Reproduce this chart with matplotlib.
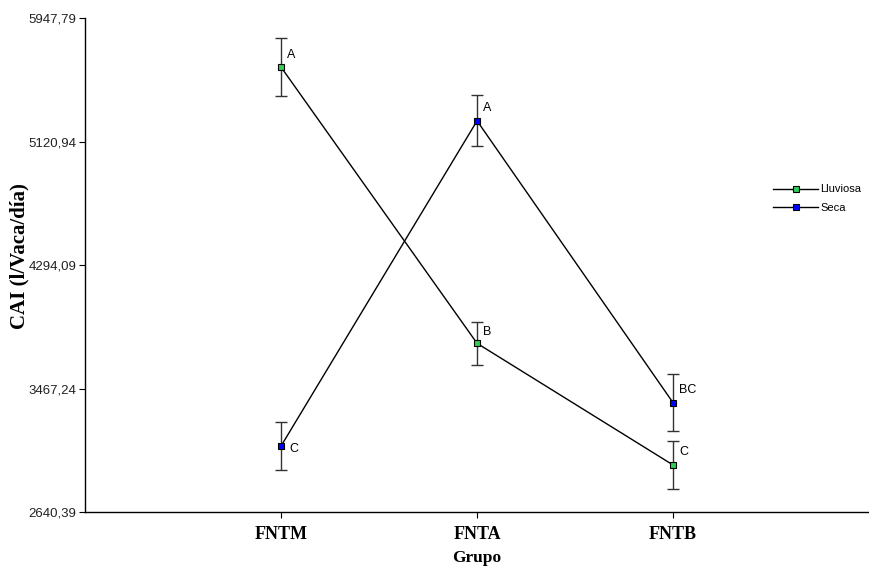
import matplotlib
import matplotlib.pyplot as plt

matplotlib.use("Agg")

GROUPS = ["FNTM", "FNTA", "FNTB"]
LLUVIOSA_MEAN = [5620, 3770, 2955]
LLUVIOSA_ERR = [195, 145, 160]
LLUVIOSA_LETTERS = ["A", "B", "C"]
SECA_MEAN = [3082, 5260, 3372]
SECA_ERR = [160, 171, 190]
SECA_LETTERS = ["C", "A", "BC"]
Y_TICKS = [2640.39, 3467.24, 4294.09, 5120.94, 5947.79]

GREEN = "#33cc55"
BLUE = "#0000ff"
SANS = "Liberation Sans"
SERIF = "Liberation Serif"


def draw_series(ax, xs, means, errs, letters, color, label, offsets):
    ax.errorbar(xs, means, yerr=errs, fmt="none", ecolor="#333333",
                elinewidth=1, capsize=4, capthick=1, zorder=2)
    ax.plot(xs, means, color="black", lw=1, marker="s", markersize=5,
            markerfacecolor=color, markeredgecolor="black", markeredgewidth=0.8,
            label=label, zorder=3)
    for x, y, t, off in zip(xs, means, letters, offsets):
        ax.annotate(t, (x, y), xytext=off, textcoords="offset pixels",
                    ha="left", va="center", fontsize=9, family=SANS)


def main():
    fig = plt.figure(figsize=(8.7, 5.67), dpi=100, facecolor="white")
    ax = fig.add_axes([0.0977, 0.097, 0.9013, 0.871])

    xs = list(range(1, len(GROUPS) + 1))
    draw_series(ax, xs, LLUVIOSA_MEAN, LLUVIOSA_ERR, LLUVIOSA_LETTERS, GREEN,
                "Lluviosa", [(6, 12), (6, 11), (6, 13)])
    draw_series(ax, xs, SECA_MEAN, SECA_ERR, SECA_LETTERS, BLUE,
                "Seca", [(8, -3), (6, 13), (6, 13)])

    ax.set_xlim(0, 4)
    ax.set_ylim(Y_TICKS[0], Y_TICKS[-1])
    ax.set_xticks(xs)
    ax.set_xticklabels(GROUPS, fontsize=13, fontweight="bold", family=SERIF)
    ax.set_yticks(Y_TICKS)
    ax.set_yticklabels([f"{v:.2f}".replace(".", ",") for v in Y_TICKS],
                       fontsize=9.5, family=SANS, color="#222222")
    ax.tick_params(axis="y", length=4, width=0.8, pad=2)
    ax.tick_params(axis="x", length=4, width=0.8, pad=6)

    ax.set_xlabel("Grupo", fontsize=12.5, fontweight="bold", family=SERIF, labelpad=5)
    ax.set_ylabel("CAI (l/Vaca/día)", fontsize=15, fontweight="bold", family=SERIF)
    ax.yaxis.set_label_coords(-0.071, 0.518)

    for side in ("top", "right"):
        ax.spines[side].set_visible(False)
    for side in ("left", "bottom"):
        ax.spines[side].set_linewidth(1)

    ax.legend(loc="center left", bbox_to_anchor=(0.878, 0.634), frameon=False,
              prop={"family": SANS, "size": 8}, handlelength=4,
              handletextpad=0.2, labelspacing=0.8, borderpad=0,
              borderaxespad=0)

    fig.savefig("out.png", dpi=100, facecolor="white")
    plt.close(fig)


if __name__ == "__main__":
    main()
